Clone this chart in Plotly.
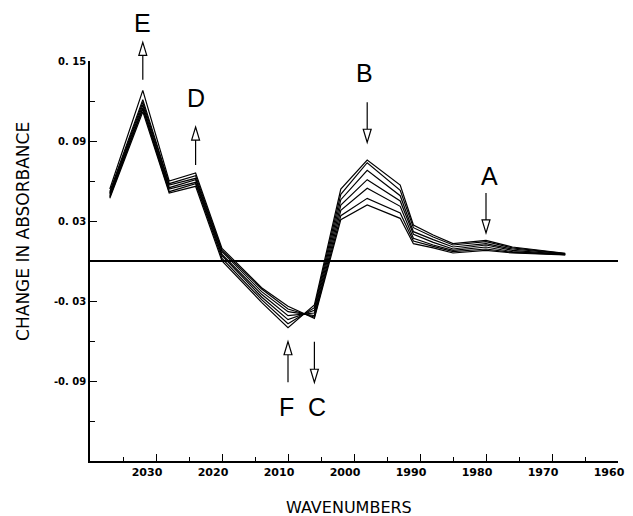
import plotly.graph_objects as go

# ---- data ----
wavenumbers = [2037, 2032, 2028, 2024, 2020, 2014, 2010, 2006, 2002, 1998, 1993, 1991, 1988, 1985, 1980, 1976, 1968]

scan_1 = [0.047, 0.112, 0.051, 0.056, 0.000, -0.031, -0.050, -0.033, 0.054, 0.0757, 0.057, 0.027, 0.0195, 0.013, 0.0155, 0.0105, 0.0058]
scan_2 = [0.048, 0.114, 0.052, 0.058, 0.002, -0.029, -0.047, -0.035, 0.050, 0.0737, 0.053, 0.025, 0.018, 0.012, 0.0145, 0.0098, 0.0055]
scan_3 = [0.049, 0.115, 0.054, 0.059, 0.004, -0.027, -0.044, -0.037, 0.046, 0.068, 0.049, 0.022, 0.016, 0.0105, 0.013, 0.009, 0.0053]
scan_4 = [0.050, 0.117, 0.055, 0.061, 0.005, -0.025, -0.041, -0.039, 0.042, 0.061, 0.045, 0.020, 0.014, 0.009, 0.012, 0.008, 0.005]
scan_5 = [0.051, 0.119, 0.057, 0.062, 0.007, -0.023, -0.038, -0.041, 0.038, 0.0545, 0.041, 0.017, 0.012, 0.008, 0.0105, 0.007, 0.0048]
scan_6 = [0.052, 0.121, 0.058, 0.064, 0.008, -0.021, -0.036, -0.042, 0.034, 0.047, 0.036, 0.015, 0.011, 0.007, 0.009, 0.0065, 0.0047]
scan_7 = [0.054, 0.128, 0.060, 0.066, 0.0095, -0.020, -0.034, -0.043, 0.031, 0.042, 0.032, 0.013, 0.0098, 0.006, 0.008, 0.006, 0.0045]
scans = [scan_1, scan_2, scan_3, scan_4, scan_5, scan_6, scan_7]

x_tick_vals = [2030, 2020, 2010, 2000, 1990, 1980, 1970, 1960]
x_tick_text = ["2030", "2020", "2010", "2000", "1990", "1980", "1970", "1960"]
y_tick_vals = [0.15, 0.09, 0.03, -0.03, -0.09]
y_tick_text = ["0. 15", "0. 09", "0. 03", "-0. 03", "-0. 09"]
y_minor_vals = [0.12, 0.06, 0.0, -0.06, -0.12]

# band labels with arrows: letter, wavenumber, arrow tail, arrow tip, label y
band_letters = ["E", "D", "B", "A", "F", "C"]
band_x = [2032, 2024, 1998, 1980, 2010, 2006]
band_letter_x = [2032, 2024, 1998.4, 1979.4, 2010.2, 2005.6]
arrow_tail = [0.136, 0.072, 0.119, 0.051, -0.091, -0.0605]
arrow_tip = [0.164, 0.1005, 0.089, 0.021, -0.0605, -0.091]
letter_y = [0.1785, 0.1226, 0.141, 0.064, -0.1095, -0.1095]

X_RANGE = [2040, 1960]
Y_RANGE = [-0.15, 0.15]


def xp(w):
    return (X_RANGE[0] - w) / (X_RANGE[0] - X_RANGE[1])


def yp(v):
    return (v - Y_RANGE[0]) / (Y_RANGE[1] - Y_RANGE[0])


fig = go.Figure()
for s in scans:
    fig.add_trace(go.Scatter(x=wavenumbers, y=s, mode="lines",
                             line=dict(color="black", width=1.2),
                             showlegend=False, hoverinfo="skip"))

shapes = []
annotations = []
HEAD_LEN = 0.0098
HEAD_HW = 0.6
for L, bx, lx, t0, t1, ly in zip(band_letters, band_x, band_letter_x, arrow_tail, arrow_tip, letter_y):
    sgn = 1 if t1 > t0 else -1
    base = t1 - sgn * HEAD_LEN
    shapes.append(dict(type="line", xref="paper", yref="paper",
                       x0=xp(bx), x1=xp(bx), y0=yp(t0), y1=yp(base),
                       line=dict(color="black", width=1.2)))
    path = "M {},{} L {},{} L {},{} Z".format(
        xp(bx), yp(t1), xp(bx - HEAD_HW), yp(base), xp(bx + HEAD_HW), yp(base))
    shapes.append(dict(type="path", xref="paper", yref="paper", path=path,
                       fillcolor="white", line=dict(color="black", width=1.2)))
    annotations.append(dict(text=L, xref="paper", yref="paper", x=xp(lx), y=yp(ly),
                            showarrow=False, xanchor="center", yanchor="middle",
                            font=dict(family="Liberation Sans", size=25, color="black")))

annotations.append(dict(text="CHANGE IN ABSORBANCE", xref="paper", yref="paper",
                        x=(22 - 90) / 535, y=(461 - 231) / 400, textangle=-90,
                        showarrow=False, xanchor="center", yanchor="middle",
                        font=dict(family="DejaVu Sans", size=17, color="black")))
annotations.append(dict(text="WAVENUMBERS", xref="paper", yref="paper",
                        x=(352 - 90) / 535, y=(461 - 507) / 400,
                        showarrow=False, xanchor="center", yanchor="middle",
                        font=dict(family="DejaVu Sans", size=16, color="black")))

fig.update_layout(
    width=633, height=516,
    margin=dict(l=90, r=8, t=61, b=55),
    paper_bgcolor="white", plot_bgcolor="white",
    shapes=shapes, annotations=annotations,
    xaxis=dict(range=X_RANGE, showgrid=False, zeroline=False,
               showline=True, linecolor="black", linewidth=1.5,
               ticks="inside", ticklen=7, tickcolor="black", tickwidth=1.2,
               tickvals=x_tick_vals, ticktext=x_tick_text,
               ticklabelshift=9,
               tickfont=dict(family="DejaVu Sans", size=11, color="black", weight="bold"),
               minor=dict(dtick=5, tick0=2035, ticks="inside", ticklen=4,
                          tickcolor="black", showgrid=False)),
    yaxis=dict(range=Y_RANGE, showgrid=False,
               zeroline=True, zerolinecolor="black", zerolinewidth=1.5,
               showline=True, linecolor="black", linewidth=1.5,
               ticks="inside", ticklen=7, tickcolor="black", tickwidth=1.2,
               tickvals=y_tick_vals, ticktext=y_tick_text,
               tickfont=dict(family="DejaVu Sans", size=10, color="black", weight="bold"),
               minor=dict(tickmode="array", tickvals=y_minor_vals, ticks="inside",
                          ticklen=5, tickcolor="black", showgrid=False)),
)

fig.write_html("out.html", config={"displayModeBar": False},
               post_script="document.body.style.margin='0';")
